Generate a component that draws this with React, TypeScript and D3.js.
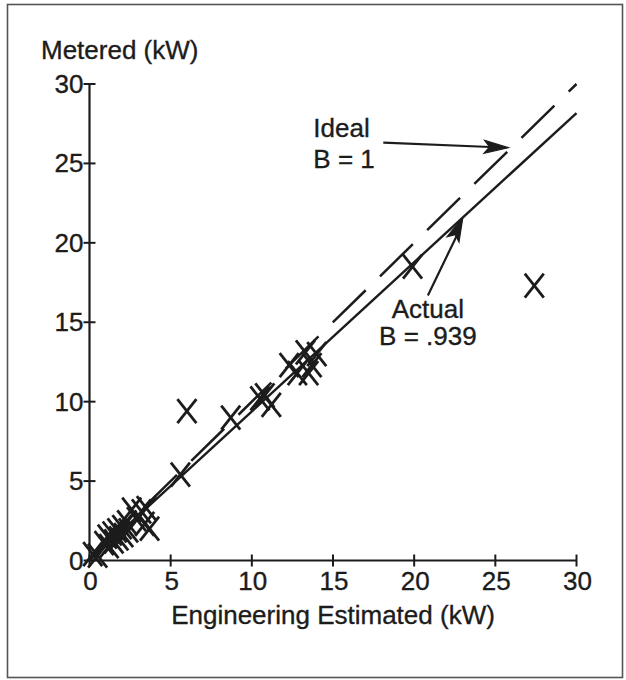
import React from "react";
import * as d3 from "d3";

const xTicks = [0, 5, 10, 15, 20, 25, 30];
const yTicks = [0, 5, 10, 15, 20, 25, 30];

// Engineering estimated (kW) vs metered (kW)
const estimated = [
  0.2, 0.5, 0.9, 1.1, 1.2, 1.4, 1.5, 1.7, 1.8, 2.0, 2.1, 2.3, 2.4, 2.6, 2.9, 3.2, 3.4, 3.7, 3.5,
  5.6, 6.0, 8.7, 10.5, 11.2, 10.8,
  12.3, 12.8, 13.3, 13.7, 14.0, 13.5,
  19.9, 27.4,
];
const metered = [
  0.4, 0.3, 1.1, 1.5, 0.9, 1.7, 1.2, 1.9, 1.4, 2.1, 1.6, 2.4, 1.9, 3.2, 2.6, 3.1, 2.3, 2.0, 3.3,
  5.4, 9.4, 9.0, 10.2, 9.8, 10.4,
  12.3, 11.8, 13.1, 12.3, 13.0, 11.8,
  18.5, 17.3,
];

const idealSlope = 1;
const actualSlope = 0.939;
const idealLabel = ["Ideal", "B = 1"];
const actualLabel = ["Actual", "B = .939"];
const idealArrowAt = 25.8;
const actualArrowAt = 23.0;

const W = 626;
const H = 680;
const FONT = "'Liberation Sans', Arial, Helvetica, sans-serif";
const INK = "#1c1c1c";

function arrowHead(sx: number, sy: number, tx: number, ty: number, L = 24, w = 6.5) {
  const dx = tx - sx;
  const dy = ty - sy;
  const len = Math.hypot(dx, dy);
  const ux = dx / len;
  const uy = dy / len;
  const nx = -uy;
  const ny = ux;
  const bx = tx - L * ux;
  const by = ty - L * uy;
  const mx = tx - 0.78 * L * ux;
  const my = ty - 0.78 * L * uy;
  return `M${tx},${ty}L${bx + w * nx},${by + w * ny}L${mx},${my}L${bx - w * nx},${by - w * ny}Z`;
}

export default function App() {
  const x = d3.scaleLinear().domain([0, 30]).range([89.5, 576.5]);
  const y = d3.scaleLinear().domain([0, 30]).range([560.5, 84]);

  const lineGen = d3
    .line<number>()
    .x((d) => x(d[0]))
    .y((d) => y(d[1]));

  const idealPath = lineGen([
    [0, 0],
    [30, 30 * idealSlope],
  ] as any);
  const actualPath = lineGen([
    [0, 0],
    [30, 30 * actualSlope],
  ] as any);

  const iTx = x(idealArrowAt);
  const iTy = y(idealArrowAt * idealSlope) - 3;
  const iSx = iTx - 125;
  const iSy = iTy - 5;

  const aTx = x(actualArrowAt);
  const aTy = y(actualArrowAt * actualSlope);
  const aSx = aTx - 35;
  const aSy = aTy + 78;

  const x0 = x(0);
  const y0 = y(0);

  const txt = { fontSize: 26, fill: INK, stroke: INK, strokeWidth: 0.35 };

  return (
    <svg
      width={W}
      height={H}
      style={{ position: "absolute", left: 0, top: 0, background: "#fff" }}
      fontFamily={FONT}
    >
      <rect x={7.5} y={4.5} width={615} height={673} fill="none" stroke="#555" strokeWidth={1.6} />

      {/* axes */}
      <line x1={x0} y1={y(0)} x2={x0} y2={y(30)} stroke={INK} strokeWidth={2.2} />
      <line x1={x(0)} y1={y0} x2={x(30)} y2={y0} stroke={INK} strokeWidth={2.2} />
      {yTicks.map((t) => (
        <g key={"y" + t}>
          <line x1={x0 - 6} x2={x0 + 6} y1={y(t)} y2={y(t)} stroke={INK} strokeWidth={2} />
          <text x={x0 - 6} y={y(t) + 9} textAnchor="end" {...txt}>
            {t}
          </text>
        </g>
      ))}
      {xTicks.map((t) => (
        <g key={"x" + t}>
          <line x1={x(t)} x2={x(t)} y1={y0 - 6} y2={y0 + 6} stroke={INK} strokeWidth={2} />
          <text x={x(t) + 1} y={590} textAnchor="middle" {...txt}>
            {t}
          </text>
        </g>
      ))}
      <text x={41} y={59} {...txt}>
        Metered (kW)
      </text>
      <text x={(x(0) + x(30)) / 2} y={624} textAnchor="middle" {...txt}>
        Engineering Estimated (kW)
      </text>

      {/* regression lines */}
      <path
        d={idealPath || ""}
        fill="none"
        stroke={INK}
        strokeWidth={2.5}
        strokeDasharray="46 20"
        strokeDashoffset={-10.4}
      />
      <path d={actualPath || ""} fill="none" stroke={INK} strokeWidth={2.4} />

      {/* markers */}
      {estimated.map((e, i) => {
        const cx = x(e);
        const cy = y(metered[i]);
        return (
          <g key={"m" + i} stroke={INK} strokeWidth={2.8} strokeLinecap="butt">
            <line x1={cx - 9.5} y1={cy - 12} x2={cx + 9.5} y2={cy + 12} />
            <line x1={cx + 9.5} y1={cy - 12} x2={cx - 9.5} y2={cy + 12} />
          </g>
        );
      })}

      {/* annotations */}
      <line x1={iSx} y1={iSy} x2={iTx - 18} y2={iTy - 0.7} stroke={INK} strokeWidth={2.2} />
      <path d={arrowHead(iSx, iSy, iTx, iTy)} fill={INK} stroke={INK} strokeWidth={1.2} />
      <text x={iSx - 70} y={iSy - 6} {...txt}>
        {idealLabel[0]}
      </text>
      <text x={iSx - 70} y={iSy + 25} {...txt}>
        {idealLabel[1]}
      </text>

      <line x1={aSx} y1={aSy} x2={aTx - 0.3 * 20} y2={aTy + 0.9 * 20} stroke={INK} strokeWidth={2.2} />
      <path d={arrowHead(aSx, aSy, aTx, aTy)} fill={INK} stroke={INK} strokeWidth={1.2} />
      <text x={aSx} y={aSy + 23} textAnchor="middle" {...txt}>
        {actualLabel[0]}
      </text>
      <text x={aSx} y={aSy + 50} textAnchor="middle" {...txt}>
        {actualLabel[1]}
      </text>
    </svg>
  );
}
